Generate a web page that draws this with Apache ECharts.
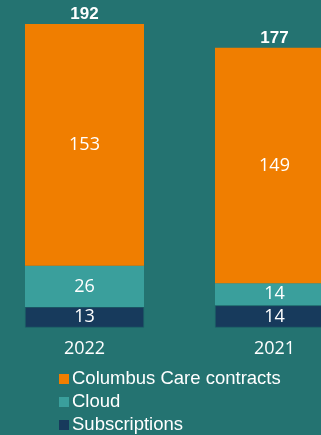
<!DOCTYPE html>
<html>
<head>
<meta charset="utf-8">
<script src="https://cdn.jsdelivr.net/npm/echarts@6/dist/echarts.min.js"></script>
<style>
  html, body { margin: 0; padding: 0; background: #247371; }
  #chart { width: 321px; height: 435px; }
</style>
</head>
<body>
<div id="chart"></div>
<script>
// Revenue split by year
const years = ['2022', '2021'];
const subscriptions = [13, 14];
const cloud = [26, 14];
const careContracts = [153, 149];
const totals = years.map((_, i) => subscriptions[i] + cloud[i] + careContracts[i]);

const seriesNames = ['Columbus Care contracts', 'Cloud', 'Subscriptions'];

const innerLabel = {
  show: true,
  position: 'inside',
  color: '#ffffff',
  fontFamily: 'Open Sans',
  fontSize: 18
};

const chart = echarts.init(document.getElementById('chart'), null, { renderer: 'canvas' });
chart.setOption({
  backgroundColor: '#247371',
  animation: false,
  grid: {
    left: -10.5, width: 380, top: 11.4, height: 316.1,
    outerBoundsMode: 'none', containLabel: false
  },
  xAxis: {
    type: 'category',
    data: years,
    axisLine: { show: false },
    axisTick: { show: false },
    axisLabel: {
      color: '#ffffff',
      fontFamily: 'Open Sans',
      fontSize: 18,
      margin: 12
    }
  },
  yAxis: {
    type: 'value',
    min: 0,
    max: 200,
    show: false,
    splitLine: { show: false }
  },
  legend: {
    data: seriesNames,
    orient: 'vertical',
    left: 59,
    top: 369.5,
    padding: 0,
    itemWidth: 10,
    itemHeight: 10,
    itemGap: 4,
    icon: 'rect',
    itemStyle: { borderWidth: 0 },
    textStyle: {
      color: '#ffffff',
      fontFamily: 'Liberation Sans',
      fontSize: 18.5,
      lineHeight: 18,
      padding: [0, 0, 0, -2]
    }
  },
  series: [
    {
      name: 'Subscriptions',
      type: 'bar',
      stack: 'rev',
      barWidth: 119,
      data: subscriptions,
      itemStyle: { color: '#173a5c', borderColor: '#1f6468', borderWidth: 0.6 },
      label: innerLabel
    },
    {
      name: 'Cloud',
      type: 'bar',
      stack: 'rev',
      barWidth: 119,
      data: cloud,
      itemStyle: { color: '#3a9f9c' },
      label: innerLabel
    },
    {
      name: 'Columbus Care contracts',
      type: 'bar',
      stack: 'rev',
      barWidth: 119,
      data: careContracts,
      itemStyle: { color: '#f07e00' },
      label: innerLabel
    },
    {
      name: 'Total',
      type: 'bar',
      stack: 'rev',
      barWidth: 119,
      data: years.map(() => 0),
      itemStyle: { color: 'transparent' },
      label: {
        show: true,
        position: 'top',
        distance: 1,
        color: '#ffffff',
        fontFamily: 'Liberation Sans',
        fontWeight: 'bold',
        fontSize: 17,
        formatter: p => String(totals[p.dataIndex])
      }
    }
  ]
});
</script>
</body>
</html>
